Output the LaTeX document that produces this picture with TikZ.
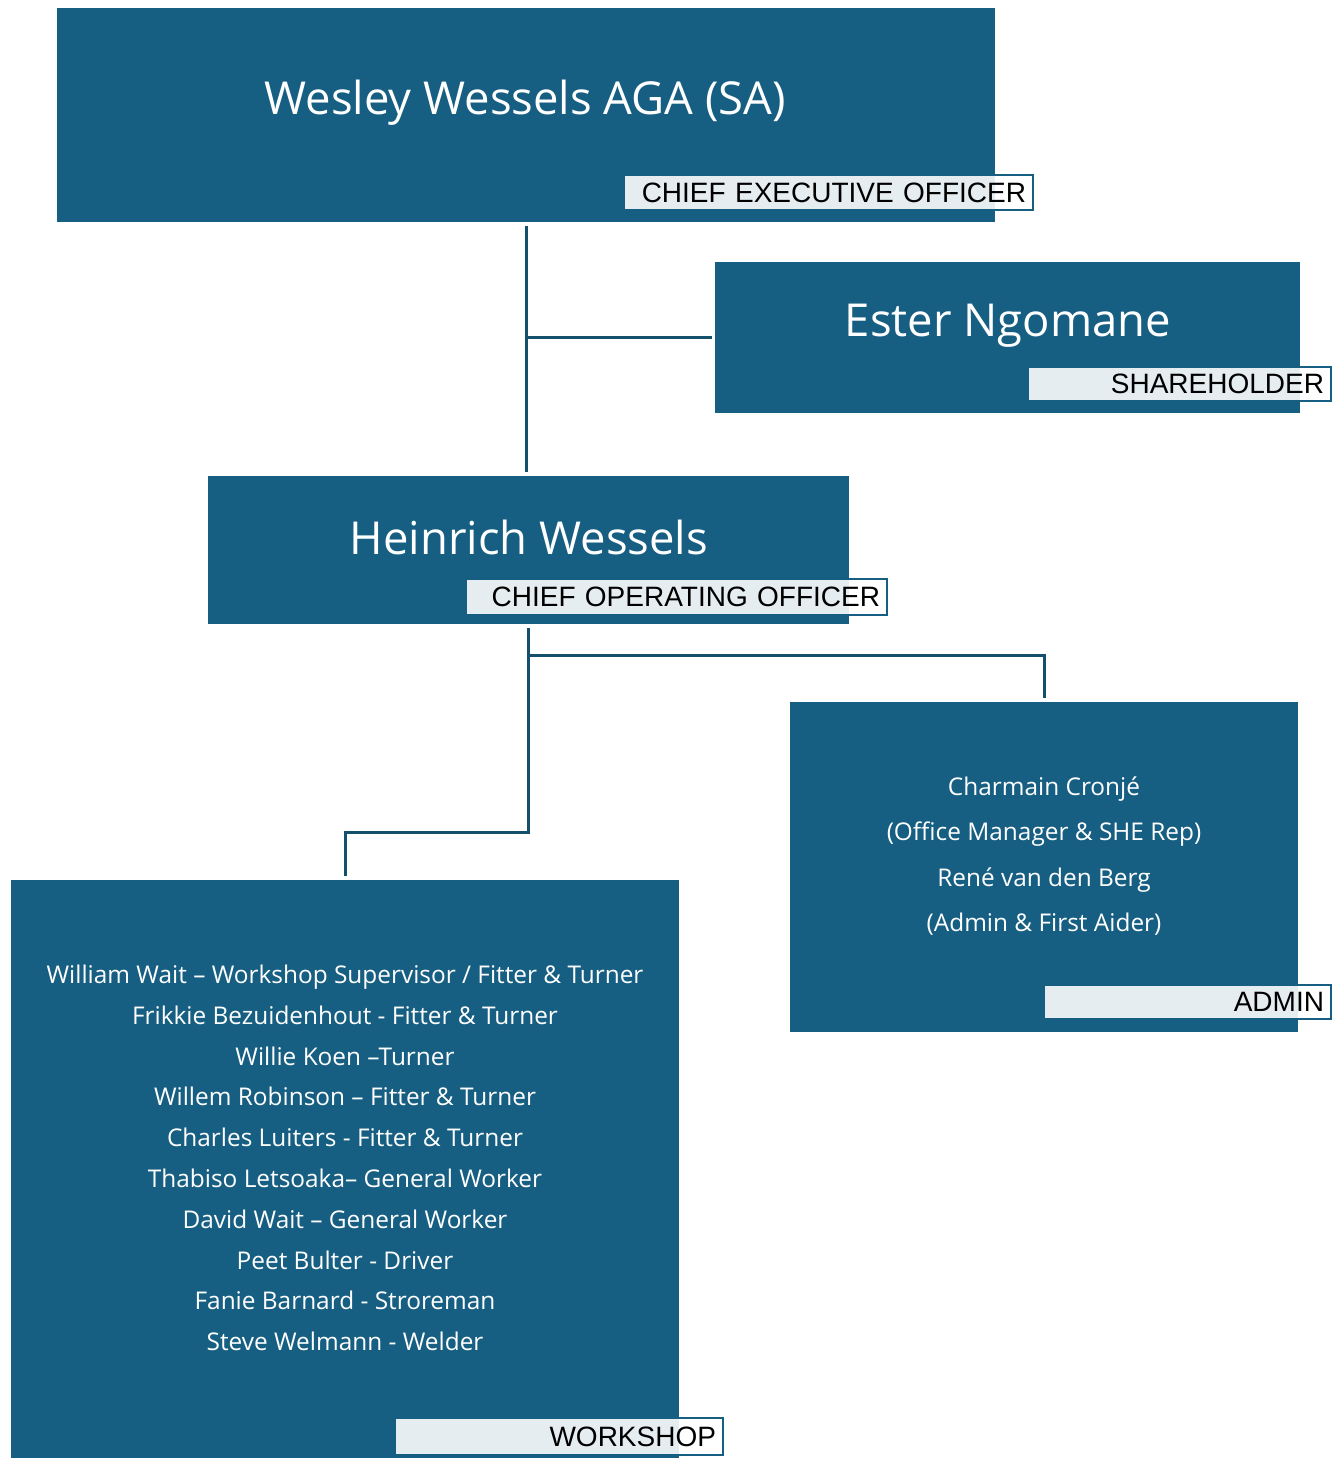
\documentclass[tikz,border=0pt]{standalone}
\usepackage{fontspec}
\setmainfont{Open Sans}
\newfontfamily\labelfont{Liberation Sans}
\definecolor{boxblue}{HTML}{175F82}
\definecolor{linecol}{HTML}{13506E}
\begin{document}
\begin{tikzpicture}[x=0.5pt,y=-0.5pt,
  box/.style={fill=boxblue, draw=none, inner sep=0pt, anchor=center},
  lab/.style={draw=boxblue, line width=1pt, fill=white, fill opacity=0.89, text opacity=1, text=black,
    font=\labelfont\fontsize{14}{16}\selectfont, align=right, inner xsep=3.5pt, inner ysep=0pt, anchor=center},
  bigname/.style={text=white, font=\fontsize{22.7}{27}\selectfont, inner sep=0pt},
  small/.style={text=white, align=center, inner sep=0pt},
  conn/.style={draw=linecol, line width=1.5pt}]
\useasboundingbox (0,0) rectangle (1341,1459);

% boxes
\node[box, minimum width=469pt, minimum height=107pt] (ceo) at (526,115) {};
\node[box, minimum width=292.5pt, minimum height=75.5pt] (sh) at (1007.5,337.5) {};
\node[box, minimum width=320.5pt, minimum height=74pt] (coo) at (528.5,550) {};
\node[box, minimum width=254pt, minimum height=165pt] (admin) at (1044,867) {};
\node[box, minimum width=334pt, minimum height=289pt] (ws) at (345,1169) {};

% names
\node[bigname] (ceoname) at (525,103) {Wesley Wessels AGA (SA)};
\node[bigname] (shname) at (1008,326) {Ester Ngomane};
\node[bigname] (cooname) at (529,537) {Heinrich Wessels};

\node[small, font=\fontsize{12.2}{22.7}\selectfont] (admintext) at (1044,856) {Charmain Cronjé\\(Office Manager \& SHE Rep)\\René van den Berg\\(Admin \& First Aider)};

\node[small, font=\fontsize{12.2}{20.4}\selectfont] (wstext) at (345,1158) {William Wait – Workshop Supervisor / Fitter \& Turner\\
Frikkie Bezuidenhout - Fitter \& Turner\\
Willie Koen –Turner\\
Willem Robinson – Fitter \& Turner\\
Charles Luiters - Fitter \& Turner\\
Thabiso Letsoaka– General Worker\\
David Wait – General Worker\\
Peet Bulter - Driver\\
Fanie Barnard - Stroreman\\
Steve Welmann - Welder};

% labels
\node[lab, text width=197.5pt, minimum height=17.5pt] (ceolab) at (828.5,192.5) {CHIEF EXECUTIVE OFFICER};
\node[lab, text width=144.5pt, minimum height=17pt] (shlab) at (1179.5,384) {SHAREHOLDER};
\node[lab, text width=203.5pt, minimum height=18pt] (coolab) at (676.5,597) {CHIEF OPERATING OFFICER};
\node[lab, text width=136.5pt, minimum height=17pt] (adminlab) at (1187.5,1002) {ADMIN};
\node[lab, text width=157pt, minimum height=18.5pt] (wslab) at (559,1436.5) {WORKSHOP};

% connectors
\draw[conn] ([yshift=-2pt]ceo.south) -- ([yshift=2pt]ceo.south |- coo.north);
\coordinate (j1) at (ceo.south |- sh.west);
\draw[conn] (j1) -- ([xshift=-1.5pt]sh.west);
\coordinate (j2) at ([yshift=-15.5pt]coo.south);
\draw[conn] ([yshift=-2pt]coo.south) -- (j2) -- (admin.north |- j2) -- ([yshift=2pt]admin.north);
\coordinate (j3) at (528.5,832);
\draw[conn] (j2) -- (j3) -| ([yshift=2pt]ws.north);
\end{tikzpicture}
\end{document}
